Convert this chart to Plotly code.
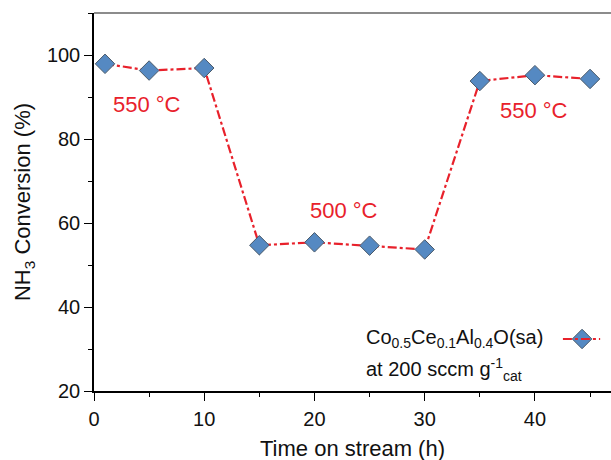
import plotly.graph_objects as go

time_h = [1, 5, 10, 15, 20, 25, 30, 35, 40, 45]
conversion = [97.9, 96.3, 96.9, 54.7, 55.4, 54.6, 53.7, 93.8, 95.2, 94.3]

temp_labels = ["550 °C", "500 °C", "550 °C"]
temp_label_x = [4.8, 22.7, 39.9]
temp_label_y = [88.3, 62.9, 86.9]

RED = "#e8212b"
BLUE = "#5589c2"
FONT = "Liberation Sans, Arial, sans-serif"

fig = go.Figure()
fig.add_trace(go.Scatter(
    x=time_h, y=conversion, mode="lines+markers",
    line=dict(color=RED, width=2.2, dash="dashdot"),
    marker=dict(symbol="diamond", size=15, color=BLUE,
                line=dict(color="#4a5a6a", width=1)),
    showlegend=False,
))

for t, x, y in zip(temp_labels, temp_label_x, temp_label_y):
    fig.add_annotation(x=x, y=y, text=t, showarrow=False,
                       font=dict(color=RED, size=22, family=FONT))

# x-axis title
fig.add_annotation(xref="paper", yref="paper", x=0.5, y=-0.152,
                   xanchor="center", yanchor="middle", showarrow=False,
                   text="Time on stream (h)", font=dict(size=22, family=FONT, color="#111"))

# legend (symbol on the right side of the text)
fig.add_annotation(xref="paper", yref="paper", x=0.522, y=0.140,
                   xanchor="left", yanchor="middle",
                   text="Co<sub>0.5</sub>Ce<sub>0.1</sub>Al<sub>0.4</sub>O(sa)",
                   showarrow=False, font=dict(size=20, family=FONT, color="#111"))
fig.add_annotation(xref="paper", yref="paper", x=0.522, y=0.056,
                   xanchor="left", yanchor="middle",
                   text="at 200 sccm g<sup>-1</sup><sub>cat</sub>",
                   showarrow=False, font=dict(size=20, family=FONT, color="#111"))
fig.add_shape(type="line", xref="paper", yref="paper", x0=0.907, x1=0.979,
              y0=0.1376, y1=0.1376, line=dict(color=RED, width=2.2, dash="dashdot"))
fig.add_trace(go.Scatter(
    x=[0.944], y=[0.1376], xaxis="x2", yaxis="y2", mode="markers",
    marker=dict(symbol="diamond", size=15, color=BLUE,
                line=dict(color="#4a5a6a", width=1)),
    showlegend=False, hoverinfo="skip"))

# top frame line
fig.add_shape(type="line", xref="paper", yref="paper", x0=0, x1=1, y0=1, y1=1,
              line=dict(color="#666", width=1.5))

fig.update_layout(
    width=611, height=460,
    margin=dict(l=94, r=0, t=13, b=69),
    plot_bgcolor="white", paper_bgcolor="white",
    font=dict(family=FONT, size=20, color="#111"),
    xaxis=dict(range=[0, 46.9], showgrid=False, zeroline=False, automargin=False,
               showline=True, linecolor="black", linewidth=1.5,
               ticks="outside", ticklen=8, tickwidth=1.2, tickcolor="black",
               ticklabelstandoff=1,
               tickvals=[0, 10, 20, 30, 40],
               minor=dict(ticks="outside", ticklen=4, tickwidth=1.2, tickcolor="black", dtick=5, tick0=0)),
    yaxis=dict(range=[20, 110], showgrid=False, zeroline=False, automargin=False,
               showline=True, linecolor="black", linewidth=1.5,
               ticks="outside", ticklen=8, tickwidth=1.2, tickcolor="black",
               tickvals=[20, 40, 60, 80, 100],
               minor=dict(ticks="outside", ticklen=4, tickwidth=1.2, tickcolor="black", dtick=10, tick0=0),
               title=dict(text="NH<sub>3</sub> Conversion (%)", font=dict(size=22), standoff=10)),
    xaxis2=dict(range=[0, 1], overlaying="x", visible=False, fixedrange=True),
    yaxis2=dict(range=[0, 1], overlaying="y", visible=False, fixedrange=True),
)

fig.write_html("out.html")
